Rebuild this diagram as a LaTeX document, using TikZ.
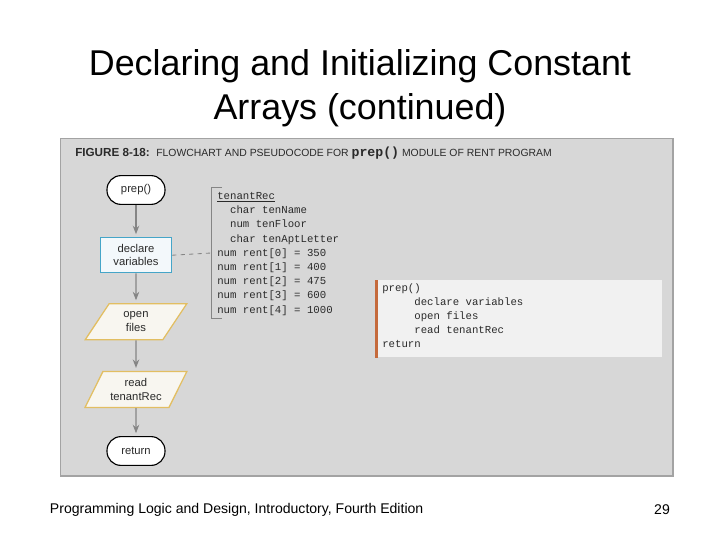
\documentclass[tikz,border=0pt]{standalone}
\usepackage{fontspec}
\setmainfont{Liberation Sans}
\setmonofont[WordSpace={1,0,0}]{Liberation Mono}
\usepackage{xcolor}
\usepackage{tikz}
\usetikzlibrary{shapes.geometric, arrows.meta, positioning}
\definecolor{panelgray}{HTML}{D7D7D7}
\definecolor{panelborder}{HTML}{A3A3A3}
\definecolor{codebg}{HTML}{F1F1F1}
\definecolor{rustbar}{HTML}{C56A3C}
\definecolor{procborder}{HTML}{45A5C8}
\definecolor{procfill}{HTML}{F3F8FB}
\definecolor{ioborder}{HTML}{E2BE62}
\definecolor{iofill}{HTML}{F8F6F0}
\definecolor{flowgray}{HTML}{858585}
\definecolor{inkgray}{HTML}{2A2A2A}
\tikzset{
  termnode/.style={
    rectangle, rounded corners=0.35cm,
    minimum width=1.45cm, minimum height=0.72cm,
    draw=black, fill=white, line width=0.8pt,
    font=\fontsize{8}{9.5}\selectfont, text=inkgray
  },
  procnode/.style={
    rectangle, minimum width=1.78cm, minimum height=0.88cm,
    align=center, draw=procborder, fill=procfill, line width=0.9pt,
    font=\fontsize{8}{9.5}\selectfont, text=inkgray
  },
  ionode/.style={
    trapezium, trapezium left angle=62, trapezium right angle=118,
    trapezium stretches=true,
    minimum width=2.55cm, minimum height=0.9cm,
    align=center, draw=ioborder, fill=iofill, line width=0.9pt,
    font=\fontsize{8}{9.5}\selectfont, text=inkgray
  },
  flowarrow/.style={
    -{Stealth[length=6pt, width=4.6pt]}, line width=0.8pt, color=flowgray,
    shorten >=2pt
  },
  dashlink/.style={
    dashed, line width=0.6pt, color=flowgray
  },
  codetext/.style={
    align=left, inner sep=0pt, text=inkgray,
    font=\ttfamily\fontsize{7.6}{10.1}\selectfont
  }
}

\begin{document}
\begin{tikzpicture}[x=0.025cm, y=-0.025cm, node distance=0.78cm]

  \useasboundingbox (0,0) rectangle (720,540);

  % ── Slide title ────────────────────────────────────────────────────────
  \node[align=center, font=\fontsize{25.5}{31.2}\selectfont, text=black]
    (title) at (360,88) {Declaring and Initializing Constant\\Arrays (continued)};

  % ── Figure panel ───────────────────────────────────────────────────────
  \node[rectangle, anchor=north west, draw=panelborder, fill=panelgray,
        line width=1pt, minimum width=15.3cm, minimum height=8.425cm,
        inner sep=0pt] (panel) at (60,138) {};

  \node[anchor=west, inner sep=0pt, text=inkgray] (figcap) at (75,153)
    {\fontsize{8.3}{10}\selectfont\bfseries FIGURE 8-18:\ \
     \fontsize{7.4}{10}\mdseries\selectfont FLOWCHART AND PSEUDOCODE FOR
     {\ttfamily\bfseries\fontsize{9.4}{10}\selectfont prep()}
     MODULE OF RENT PROGRAM};

  % ── Flowchart ──────────────────────────────────────────────────────────
  \node[termnode] (prep) at (136,190) {prep()};
  \node[procnode, below=0.8cm of prep]     (declare) {declare\\variables};
  \node[ionode,   below=0.74cm of declare] (openf)   {open\\files};
  \node[ionode,   below=0.76cm of openf]   (readrec) {read\\tenantRec};
  \node[termnode, below=0.7cm of readrec]  (ret)     {return};

  % arrows — flowchart
  \draw[flowarrow] (prep)    -- (declare);
  \draw[flowarrow] (declare) -- (openf);
  \draw[flowarrow] (openf)   -- (readrec);
  \draw[flowarrow] (readrec) -- (ret);

  % ── Declarations bracket ───────────────────────────────────────────────
  \coordinate (brktop) at (211,187);
  \coordinate (brkbot) at (211,318);
  \coordinate (brkmid) at (211,253);
  \draw[flowgray, line width=0.6pt] ([xshift=0.28cm]brktop) -- (brktop)
    -- (brkbot) -- ([xshift=0.28cm]brkbot);
  \draw[dashlink] (declare.east) -- (brkmid);

  \node[codetext, anchor=north west] (decls) at (217,192)
    {\underline{tenantRec}\\
     \phantom{xx}char tenName\\
     \phantom{xx}num tenFloor\\
     \phantom{xx}char tenAptLetter\\
     num rent[0] = 350\\
     num rent[1] = 400\\
     num rent[2] = 475\\
     num rent[3] = 600\\
     num rent[4] = 1000};

  % ── Pseudocode box ─────────────────────────────────────────────────────
  \node[rectangle, anchor=north west, fill=codebg, inner sep=0pt,
        minimum width=7.175cm, minimum height=1.925cm] (pseudobox) at (375,280) {};
  \draw[rustbar, line width=2.2pt]
    ([xshift=1.1pt]pseudobox.north west) -- ([xshift=1.1pt]pseudobox.south west);
  \node[codetext, anchor=north west] (pseudo) at (382,283)
    {prep()\\
     \phantom{xxxxx}declare variables\\
     \phantom{xxxxx}open files\\
     \phantom{xxxxx}read tenantRec\\
     return};

  % ── Footer ─────────────────────────────────────────────────────────────
  \node[anchor=west, font=\fontsize{10}{12}\selectfont, text=black]
    (footer) at (45,510) {Programming Logic and Design, Introductory, Fourth Edition};
  \node[font=\fontsize{10}{12}\selectfont, text=black] (pagenum) at (662,510) {29};

\end{tikzpicture}
\end{document}
